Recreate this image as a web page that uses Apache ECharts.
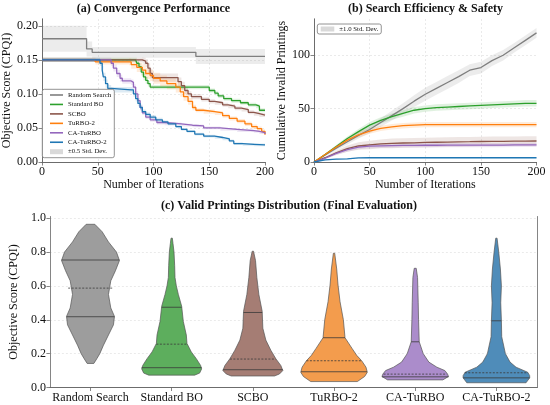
<!DOCTYPE html>
<html>
<head>
<meta charset="utf-8">
<script src="https://cdn.jsdelivr.net/npm/echarts@6/dist/echarts.min.js"></script>
<style>html,body{margin:0;padding:0;background:#fff}#chart{width:550px;height:405px}</style>
</head>
<body>
<div id="chart"></div>
<script>
var FONT = '"Liberation Serif","Times New Roman",serif';
var methods = ['Random Search', 'Standard BO', 'SCBO', 'TuRBO-2', 'CA-TuRBO', 'CA-TuRBO-2'];
var lineColors = ['#7f7f7f', '#2ca02c', '#8c564b', '#ff7f0e', '#9467bd', '#1f77b4'];
var violinColors = ['#9d9d9d', '#5dae5d', '#a57d74', '#f39c4d', '#ab8ccb', '#4f8cb9'];

// (a) best objective so far: [iteration, CPQI, 0.5 std]
var convRandom = [[0,0.181,0.019],[40,0.166,0.011],[45,0.161,0.008],[138,0.155,0.011],[200,0.154,0.011]];
var convStdBO = [[0,0.150,0.003],[84,0.150,0.003],[85,0.145,0.004],[87,0.140,0.005],[89,0.132,0.005],[91,0.125,0.005],[93,0.120,0.005],[95,0.115,0.004],[97,0.110,0.003],[148,0.110,0.003],[150,0.105,0.003],[155,0.101,0.003],[158,0.097,0.003],[163,0.093,0.003],[170,0.090,0.003],[178,0.087,0.003],[185,0.084,0.003],[192,0.082,0.003],[195,0.076,0.003],[200,0.075,0.003]];
var convSCBO = [[0,0.150,0.003],[90,0.150,0.004],[91,0.148,0.005],[93,0.145,0.006],[95,0.138,0.007],[97,0.130,0.007],[99,0.124,0.006],[119,0.124,0.006],[122,0.118,0.006],[125,0.112,0.006],[128,0.105,0.005],[131,0.100,0.004],[134,0.096,0.004],[143,0.092,0.003],[150,0.089,0.003],[155,0.087,0.003],[162,0.084,0.003],[167,0.082,0.003],[173,0.079,0.003],[179,0.077,0.003],[185,0.073,0.003],[190,0.071,0.003],[195,0.069,0.003],[200,0.068,0.003]];
var convTuRBO2 = [[0,0.150,0.003],[47,0.150,0.003],[48,0.147,0.004],[78,0.147,0.005],[80,0.143,0.006],[85,0.139,0.007],[90,0.135,0.008],[93,0.130,0.008],[97,0.127,0.008],[100,0.123,0.008],[106,0.119,0.008],[112,0.115,0.008],[120,0.110,0.008],[124,0.103,0.007],[127,0.096,0.006],[131,0.089,0.005],[135,0.080,0.004],[138,0.076,0.003],[145,0.074,0.003],[155,0.072,0.003],[162,0.068,0.003],[168,0.064,0.003],[175,0.060,0.003],[182,0.056,0.003],[188,0.052,0.003],[193,0.049,0.003],[197,0.045,0.003],[200,0.040,0.003]];
var convCATuRBO = [[0,0.150,0.003],[60,0.150,0.003],[62,0.145,0.004],[64,0.138,0.005],[67,0.130,0.005],[70,0.123,0.005],[72,0.119,0.004],[80,0.117,0.004],[82,0.110,0.004],[84,0.100,0.004],[86,0.090,0.004],[88,0.080,0.004],[90,0.072,0.003],[93,0.066,0.003],[97,0.062,0.003],[103,0.058,0.003],[110,0.056,0.002],[125,0.054,0.002],[135,0.053,0.002],[145,0.050,0.002],[160,0.048,0.002],[175,0.046,0.002],[190,0.045,0.002],[195,0.043,0.002],[200,0.041,0.002]];
var convCATuRBO2 = [[0,0.150,0.003],[50,0.150,0.003],[52,0.145,0.004],[54,0.135,0.006],[55,0.125,0.006],[57,0.115,0.006],[59,0.108,0.005],[62,0.106,0.004],[80,0.106,0.004],[82,0.100,0.004],[84,0.093,0.004],[86,0.086,0.004],[88,0.080,0.004],[90,0.074,0.003],[93,0.070,0.003],[97,0.066,0.003],[102,0.062,0.003],[108,0.059,0.002],[113,0.056,0.002],[120,0.052,0.002],[125,0.048,0.002],[130,0.045,0.002],[137,0.041,0.002],[145,0.038,0.002],[155,0.036,0.002],[162,0.034,0.002],[168,0.031,0.002],[172,0.027,0.002],[180,0.026,0.002],[190,0.025,0.002],[200,0.0245,0.002]];
var convAll = [convRandom, convStdBO, convSCBO, convTuRBO2, convCATuRBO, convCATuRBO2];

// (b) cumulative invalid printings, mean and 1 std
var iterB = [0,10,20,30,40,50,60,70,80,90,100,110,120,130,140,150,160,170,180,190,200];
var invRandom = [0,6.5,13,19,25,30.5,37,43.5,50,57,63.5,69,74.5,80,86,88.5,95,100,107,114,121];
var sdRandom = [0,1,2,2.5,3,3.5,4,4.5,5,5.5,6,6,6,6,5.5,5.5,5,5,4.5,4.5,4.5];
var invStdBO = [0,7,14.5,22,28.5,34.5,39,42.5,45.5,48.5,50,51,51.5,52,52.5,53,53.5,54,54.5,55,55];
var sdStdBO = [0,1,1.5,2,2.5,3,3,3,3,3,3,3,3,3,3,3,3,3,3,3,3];
var invSCBO = [0,4,8.5,12.5,15,16,17,17.5,17.8,18,18.3,18.5,18.7,18.9,19,19.2,19.3,19.4,19.5,19.6,19.7];
var sdSCBO = [0,1,2,3,3.5,4,4,4.5,4.5,4.5,4.5,4.5,4.5,4.5,4.5,4.5,4.5,4.5,4.5,4.5,4.5];
var invTuRBO2 = [0,7,14,20.5,25.5,29,31.5,33,34,34.5,35,35,35,35,35,35,35,35,35,35,35];
var sdTuRBO2 = [0,1,1.5,2,2.5,2.5,2.5,2.5,2.5,2.5,2.5,2.5,2.5,2.5,2.5,2.5,2.5,2.5,2.5,2.5,2.5];
var invCATuRBO = [0,3.5,8,11.5,14,14.8,15.2,15.4,15.5,15.6,15.7,15.7,15.8,15.8,15.8,15.9,15.9,15.9,16,16,16];
var sdCATuRBO = [0,1,1.5,2,2,2,2,2,2,2,2,2,2,2,2,2,2,2,2,2,2];
var invCATuRBO2 = [0,2,2.6,3,3.8,4,4,4,4,4,4,4,4,4,4,4,4,4,4,4,4];
var sdCATuRBO2 = [0,0.5,0.5,0.5,0.5,0.5,0.5,0.5,0.5,0.5,0.5,0.5,0.5,0.5,0.5,0.5,0.5,0.5,0.5,0.5,0.5];
var invAll = [invRandom, invStdBO, invSCBO, invTuRBO2, invCATuRBO, invCATuRBO2];
var sdAll = [sdRandom, sdStdBO, sdSCBO, sdTuRBO2, sdCATuRBO, sdCATuRBO2];

// (c) violin outlines: [CPQI, relative half width], quartiles [CPQI, relative half width]
var vRandom = [[0.142,0.10],[0.17,0.19],[0.20,0.28],[0.25,0.39],[0.31,0.54],[0.37,0.69],[0.42,0.72],[0.47,0.61],[0.55,0.54],[0.63,0.61],[0.69,0.75],[0.75,0.87],[0.80,0.78],[0.86,0.54],[0.92,0.35],[0.964,0.13]];
var vStdBO = [[0.073,0.69],[0.085,0.84],[0.11,0.90],[0.13,0.87],[0.17,0.74],[0.21,0.59],[0.26,0.46],[0.31,0.44],[0.39,0.35],[0.48,0.30],[0.55,0.20],[0.60,0.14],[0.65,0.10],[0.72,0.09],[0.80,0.07],[0.85,0.04],[0.882,0.02]];
var vSCBO = [[0.068,0.65],[0.08,0.80],[0.10,0.90],[0.13,0.84],[0.17,0.69],[0.22,0.54],[0.28,0.39],[0.35,0.30],[0.45,0.28],[0.55,0.18],[0.65,0.12],[0.75,0.08],[0.805,0.02]];
var vTuRBO2 = [[0.035,0.70],[0.065,0.92],[0.09,1.0],[0.12,0.96],[0.158,0.83],[0.19,0.68],[0.231,0.54],[0.294,0.33],[0.40,0.28],[0.507,0.18],[0.605,0.12],[0.70,0.08],[0.793,0.02]];
var vCATuRBO = [[0.045,0.83],[0.065,1.0],[0.08,0.97],[0.10,0.89],[0.12,0.65],[0.15,0.41],[0.20,0.24],[0.27,0.12],[0.40,0.10],[0.50,0.09],[0.65,0.07],[0.704,0.03]];
var vCATuRBO2 = [[0.028,0.89],[0.057,1.0],[0.07,1.0],[0.09,0.94],[0.12,0.59],[0.15,0.41],[0.20,0.27],[0.30,0.16],[0.394,0.15],[0.50,0.13],[0.60,0.15],[0.70,0.12],[0.80,0.07],[0.882,0.02]];
var qRandom = [[0.418,0.72],[0.587,0.67],[0.753,0.87]];
var qStdBO = [[0.117,0.90],[0.256,0.46],[0.474,0.30]];
var qSCBO = [[0.105,0.90],[0.168,0.69],[0.443,0.28]];
var qTuRBO2 = [[0.093,0.99],[0.158,0.83],[0.294,0.33]];
var qCATuRBO = [[0.063,1.0],[0.079,0.95],[0.27,0.12]];
var qCATuRBO2 = [[0.057,1.0],[0.087,0.95],[0.394,0.15]];
var violins = [vRandom, vStdBO, vSCBO, vTuRBO2, vCATuRBO, vCATuRBO2];
var quarts = [qRandom, qStdBO, qSCBO, qTuRBO2, qCATuRBO, qCATuRBO2];

var txt = '#111';
var frame = '#666';

// step shaped band for panel (a)
function stepBand(rows, color) {
  return function (params, api) {
    var top = [], bot = [];
    rows.forEach(function (r, i) {
      var xn = i + 1 < rows.length ? rows[i + 1][0] : r[0];
      top.push(api.coord([r[0], r[1] + r[2]]), api.coord([xn, r[1] + r[2]]));
      bot.push(api.coord([r[0], r[1] - r[2]]), api.coord([xn, r[1] - r[2]]));
    });
    return { type: 'polygon', shape: { points: top.concat(bot.reverse()) }, style: { fill: color, opacity: 0.15 } };
  };
}

// smooth band for panel (b)
function lineBand(vals, sds, color) {
  return function (params, api) {
    var top = iterB.map(function (x, i) { return api.coord([x, vals[i] + sds[i]]); });
    var bot = iterB.map(function (x, i) { return api.coord([x, vals[i] - sds[i]]); });
    return { type: 'polygon', shape: { points: top.concat(bot.reverse()) }, style: { fill: color, opacity: 0.15 } };
  };
}

function violinItem(params, api) {
  var i = params.dataIndex;
  var cx = api.coord([i, 0])[0];
  var H = api.size([1, 0])[0] * 0.41;
  var prof = violins[i];
  var right = prof.map(function (p) { return [cx + p[1] * H, api.coord([i, p[0]])[1]]; });
  var left = prof.map(function (p) { return [cx - p[1] * H, api.coord([i, p[0]])[1]]; }).reverse();
  var children = [{ type: 'polygon', shape: { points: right.concat(left) },
    style: { fill: violinColors[i], stroke: '#555', lineWidth: 0.7 } }];
  quarts[i].forEach(function (q, k) {
    var y = api.coord([i, q[0]])[1];
    children.push({ type: 'line', shape: { x1: cx - q[1] * H, y1: y, x2: cx + q[1] * H, y2: y },
      style: { stroke: '#3a3a3a', lineWidth: 0.8, lineDash: k === 1 ? [2, 1.5] : null } });
  });
  return { type: 'group', children: children };
}

var series = [];
methods.forEach(function (m, i) {
  series.push({ name: '±0.5 Std. Dev.', type: 'custom', xAxisIndex: 0, yAxisIndex: 0, z: 1, clip: true,
    data: [[0, 0]], encode: { x: 0, y: 1 }, renderItem: stepBand(convAll[i], lineColors[i]), silent: true });
});
methods.forEach(function (m, i) {
  series.push({ name: m, type: 'line', xAxisIndex: 0, yAxisIndex: 0, step: 'end', showSymbol: false, z: 3,
    color: lineColors[i], lineStyle: { width: 1.3, color: lineColors[i] },
    data: convAll[i].map(function (r) { return [r[0], r[1]]; }) });
});
methods.forEach(function (m, i) {
  series.push({ name: '±1.0 Std. Dev.', type: 'custom', xAxisIndex: 1, yAxisIndex: 1, z: 1, clip: true,
    data: [[0, 0]], encode: { x: 0, y: 1 }, renderItem: lineBand(invAll[i], sdAll[i], lineColors[i]), silent: true });
});
methods.forEach(function (m, i) {
  series.push({ name: m + ' ', type: 'line', xAxisIndex: 1, yAxisIndex: 1, showSymbol: false, z: 3,
    color: lineColors[i], lineStyle: { width: 1.3, color: lineColors[i] },
    data: iterB.map(function (x, k) { return [x, invAll[i][k]]; }) });
});
series.push({ type: 'custom', xAxisIndex: 2, yAxisIndex: 2, z: 2,
  data: methods.map(function (m, i) { return [i, 0]; }), encode: { x: 0, y: 1 }, renderItem: violinItem });

var gridLine = { show: true, showMaxLine: false, showMinLine: false,
  lineStyle: { color: '#e2e2e2', width: 0.7, type: [2, 2] } };
var axisLbl = { color: txt, fontFamily: FONT, fontSize: 12, margin: 4 };
var tick = { show: true, inside: false, length: 3.5, lineStyle: { color: frame, width: 0.8 } };
var axLine = { show: true, lineStyle: { color: frame, width: 0.8 } };
var nameStyle = { color: txt, fontFamily: FONT, fontSize: 12 };

function iterAxis(idx) {
  return { type: 'value', gridIndex: idx, min: 0, max: 200, interval: 50,
    name: 'Number of Iterations', nameLocation: 'middle', nameGap: 15, nameTextStyle: nameStyle,
    axisLine: axLine, axisTick: tick, axisLabel: axisLbl, splitLine: gridLine };
}
// plain axis used only to close the frame on the top / right side
function frameAxis(idx, pos, type) {
  return { type: type, gridIndex: idx, position: pos, min: 0, max: 1, axisLine: axLine,
    axisTick: { show: false }, axisLabel: { show: false }, splitLine: { show: false } };
}

var option = {
  animation: false,
  backgroundColor: '#fff',
  title: [
    { text: '(a) Convergence Performance', left: 153.5, top: 3, textAlign: 'center', padding: 0,
      textStyle: { fontFamily: FONT, fontSize: 12, fontWeight: 'bold', color: txt } },
    { text: '(b) Search Efficiency & Safety', left: 425.5, top: 3, textAlign: 'center', padding: 0,
      textStyle: { fontFamily: FONT, fontSize: 12, fontWeight: 'bold', color: txt } },
    { text: '(c) Valid Printings Distribution (Final Evaluation)', left: 289, top: 200, textAlign: 'center', padding: 0,
      textStyle: { fontFamily: FONT, fontSize: 12, fontWeight: 'bold', color: txt } }
  ],
  grid: [
    { left: 42, top: 19, width: 223, height: 143 },
    { left: 314, top: 19, width: 222.5, height: 143 },
    { left: 42, top: 216.5, width: 495, height: 171 }
  ],
  xAxis: [
    iterAxis(0),
    iterAxis(1),
    { type: 'category', gridIndex: 2, data: methods, axisLine: axLine,
      axisTick: { show: true, inside: false, length: 3.5, alignWithLabel: true, lineStyle: { color: frame, width: 0.8 } },
      axisLabel: { color: txt, fontFamily: FONT, fontSize: 12, margin: 4, interval: 0 }, splitLine: { show: false } },
    frameAxis(0, 'top', 'value'),
    frameAxis(1, 'top', 'value'),
    frameAxis(2, 'top', 'value')
  ],
  yAxis: [
    { type: 'value', gridIndex: 0, min: 0, max: 0.21, interval: 0.05,
      name: 'Objective Score (CPQI)', nameLocation: 'middle', nameGap: 27, nameTextStyle: nameStyle,
      axisLine: axLine, axisTick: tick, splitLine: gridLine,
      axisLabel: { color: txt, fontFamily: FONT, fontSize: 12, margin: 4, showMaxLabel: false,
        formatter: function (v) { return v.toFixed(2); } } },
    { type: 'value', gridIndex: 1, min: 0, max: 134, interval: 50,
      name: 'Cumulative Invalid Printings', nameLocation: 'middle', nameGap: 26, nameTextStyle: nameStyle,
      axisLine: axLine, axisTick: tick, splitLine: gridLine,
      axisLabel: { color: txt, fontFamily: FONT, fontSize: 12, margin: 4, showMaxLabel: false } },
    { type: 'value', gridIndex: 2, min: 0, max: 1.01, interval: 0.2,
      name: 'Objective Score (CPQI)', nameLocation: 'middle', nameGap: 22, nameTextStyle: nameStyle,
      axisLine: axLine, axisTick: tick, splitLine: gridLine,
      axisLabel: { color: txt, fontFamily: FONT, fontSize: 12, margin: 4, showMaxLabel: false,
        formatter: function (v) { return v.toFixed(1); } } },
    frameAxis(0, 'right', 'value'),
    frameAxis(1, 'right', 'value'),
    frameAxis(2, 'right', 'value')
  ],
  legend: [
    { data: methods, orient: 'vertical', left: 50, top: 91, padding: 0, itemGap: 1.45,
      itemWidth: 13, itemHeight: 1.6, icon: 'rect', selectedMode: false, z: 5,
      textStyle: { fontFamily: FONT, fontSize: 6.8, lineHeight: 8, color: txt } },
    { data: [{ name: '±0.5 Std. Dev.', itemStyle: { color: '#d9d9d9' } }], left: 50, top: 147.7, padding: 0,
      itemWidth: 13, itemHeight: 5, icon: 'rect', selectedMode: false, z: 5,
      textStyle: { fontFamily: FONT, fontSize: 6.8, lineHeight: 8, color: txt } },
    { data: [{ name: '±1.0 Std. Dev.', itemStyle: { color: '#d9d9d9' } }], left: 317.3, top: 24, padding: [1, 3, 1, 3.4],
      itemWidth: 13.6, itemHeight: 5, icon: 'rect', selectedMode: false, z: 5,
      borderColor: '#777', borderWidth: 0.8, borderRadius: 2, backgroundColor: 'rgba(255,255,255,0.85)',
      textStyle: { fontFamily: FONT, fontSize: 6.8, lineHeight: 8, color: txt } }
  ],
  graphic: [
    { type: 'rect', z: 4, shape: { x: 42.3, y: 89.3, width: 72, height: 68.4, r: 2 },
      style: { fill: 'rgba(255,255,255,0.85)', stroke: '#777', lineWidth: 0.8 } }
  ],
  series: series
};

var chart = echarts.init(document.getElementById('chart'), null, { renderer: 'canvas' });
chart.setOption(option);
</script>
</body>
</html>
